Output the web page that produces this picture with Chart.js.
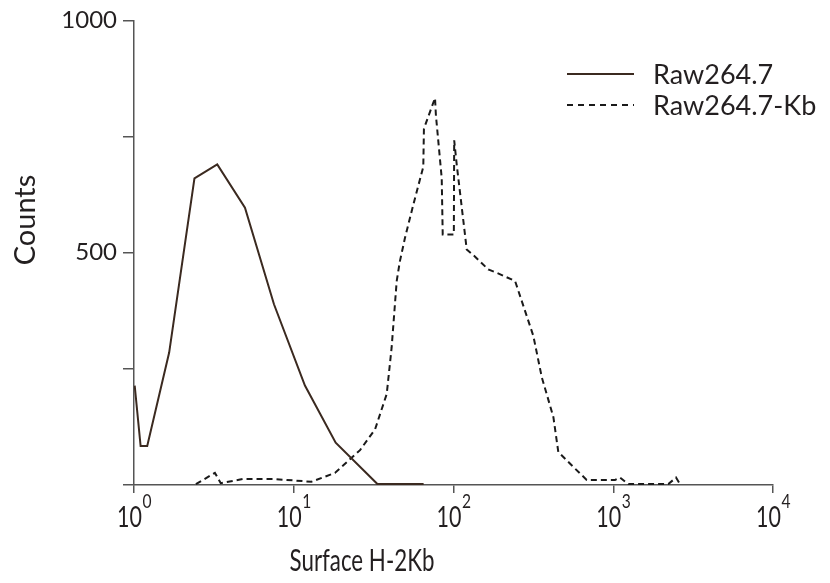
<!DOCTYPE html>
<html>
<head>
<meta charset="utf-8">
<script src="https://cdn.jsdelivr.net/npm/chart.js@4.4.1/dist/chart.umd.min.js"></script>
<style>
  body { margin: 0; background: #fff; }
  canvas { display: block; }
</style>
</head>
<body>
<canvas id="myChart" width="830" height="583"></canvas>
<script>
// Raw264.7 (solid)
const rawX = [1.01, 1.10, 1.21, 1.66, 2.39, 3.32, 4.95, 7.52, 11.75, 18.3, 33.4, 65];
const rawY = [214, 84, 84, 285, 660, 690, 597, 389, 214, 91, 2, 2];

// Raw264.7-Kb (dashed)
const kbX = [2.44, 3.21, 3.49, 4.83, 7.45, 12.9, 18.1, 26.0, 32.3, 38.2, 41.0, 44.1, 46.2, 49.7, 56.0,
  64.7, 65.3, 76.6, 77.6, 84.4, 85.6, 100.5, 101, 104.8, 121, 136, 165, 186, 243, 316, 357, 422,
  453, 562, 682, 1026, 1102, 1242, 2212, 2472, 2617];
const kbY = [2, 26, 4, 13, 13, 7, 26, 75, 120, 196, 296, 439, 482, 532, 603,
  685, 767, 833, 796, 660, 539, 539, 742, 689, 507, 492, 464, 457, 439, 321, 232, 146,
  71, 39, 11, 11, 16, 2, 2, 16, 2];

const seriesNames = ['Raw264.7', 'Raw264.7-Kb'];
const xDecades = [1, 10, 100, 1000, 10000];
const yTickLabels = [500, 1000];

const textColor = '#231f20';
const axisColor = '#555555';
const fontName = 'Lato';

function toPoints(xs, ys) {
  return xs.map((x, i) => ({ x: x, y: ys[i] }));
}

// text squeezed a little sideways, like the narrow font of the original
function narrowText(ctx, text, x, y, size, sx) {
  ctx.save();
  ctx.font = size + 'px ' + fontName;
  ctx.translate(x, y);
  ctx.scale(sx, 1);
  ctx.fillText(text, 0, 0);
  ctx.restore();
}

function narrowWidth(ctx, text, size, sx) {
  ctx.font = size + 'px ' + fontName;
  return ctx.measureText(text).width * sx;
}

// labels, legend and axis titles drawn on top
const labelPlugin = {
  id: 'labels',
  afterDraw(chart) {
    const ctx = chart.ctx;
    const xs = chart.scales.x;
    ctx.save();
    ctx.fillStyle = textColor;
    ctx.textBaseline = 'alphabetic';
    ctx.textAlign = 'left';

    // x tick labels as 10^n
    xDecades.forEach(v => {
      const px = xs.getPixelForValue(v);
      const exp = String(Math.round(Math.log10(v)));
      const wBase = narrowWidth(ctx, '10', 29, 0.74);
      const wExp = narrowWidth(ctx, exp, 20, 0.78);
      const start = px - (wBase + wExp) / 2;
      narrowText(ctx, '10', start, 527, 29, 0.74);
      narrowText(ctx, exp, start + wBase + 0.5, 508, 20, 0.78);
    });

    // axis titles
    const title = 'Surface H-2Kb';
    const wt = narrowWidth(ctx, title, 31, 0.72);
    narrowText(ctx, title, 362 - wt / 2, 571, 31, 0.72);
    ctx.save();
    ctx.textAlign = 'center';
    ctx.textBaseline = 'middle';
    ctx.translate(26, 220);
    ctx.rotate(-Math.PI / 2);
    ctx.font = '29px ' + fontName;
    ctx.fillText('Counts', 0, 0);
    ctx.restore();

    // legend
    chart.data.datasets.forEach((ds, i) => {
      const y = 74 + i * 31;
      ctx.beginPath();
      ctx.strokeStyle = ds.borderColor;
      ctx.lineWidth = ds.borderWidth;
      ctx.setLineDash(ds.borderDash.length ? [6, 5] : []);
      ctx.moveTo(567, y);
      ctx.lineTo(634, y);
      ctx.stroke();
      ctx.setLineDash([]);
      ctx.textAlign = 'left';
      ctx.textBaseline = 'middle';
      ctx.font = '27px ' + fontName;
      ctx.fillStyle = textColor;
      ctx.fillText(ds.label, 653, y + 1);
    });
    ctx.restore();
  }
};

const ctx = document.getElementById('myChart').getContext('2d');
new Chart(ctx, {
  type: 'line',
  data: {
    datasets: [{
      label: seriesNames[0],
      data: toPoints(rawX, rawY),
      borderColor: '#3b2a20',
      borderWidth: 2,
      borderDash: [],
      pointRadius: 0,
      tension: 0,
      fill: false
    }, {
      label: seriesNames[1],
      data: toPoints(kbX, kbY),
      borderColor: '#1a1a1a',
      borderWidth: 2,
      borderDash: [6, 4],
      pointRadius: 0,
      tension: 0,
      fill: false
    }]
  },
  options: {
    responsive: false,
    animation: false,
    layout: { padding: { top: 18, right: 57, left: 0, bottom: 0 } },
    plugins: {
      legend: { display: false },
      tooltip: { enabled: false }
    },
    scales: {
      x: {
        type: 'logarithmic',
        min: 1,
        max: 10000,
        afterBuildTicks: s => { s.ticks = xDecades.map(v => ({ value: v })); },
        afterFit: s => { s.height = 98; },
        ticks: { callback: () => '', autoSkip: false, maxRotation: 0 },
        grid: { drawOnChartArea: false, drawTicks: true, tickLength: 8, color: axisColor, lineWidth: 1.5 },
        border: { display: true, color: axisColor, width: 1.5 }
      },
      y: {
        min: 0,
        max: 1000,
        afterFit: s => { s.width = 134; },
        ticks: {
          stepSize: 250,
          padding: 6,
          color: textColor,
          font: { family: fontName, size: 24 },
          callback: v => yTickLabels.includes(v) ? String(v) : ''
        },
        grid: { drawOnChartArea: false, drawTicks: true, tickLength: 11, color: axisColor, lineWidth: 1.5 },
        border: { display: true, color: axisColor, width: 1.5 }
      }
    }
  },
  plugins: [labelPlugin]
});
</script>
</body>
</html>
